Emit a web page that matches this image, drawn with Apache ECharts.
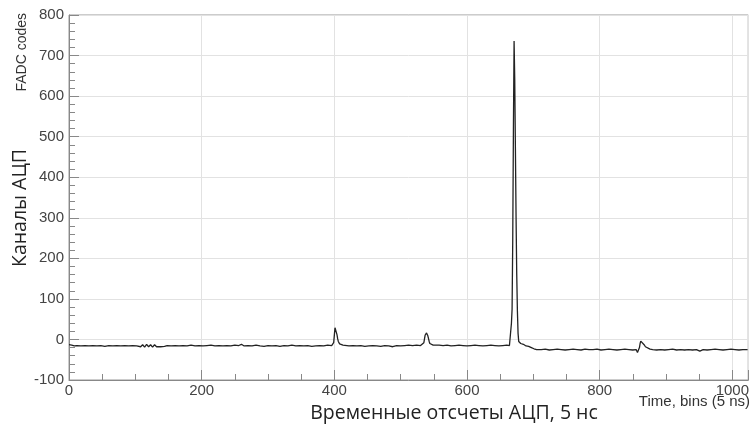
<!DOCTYPE html>
<html>
<head>
<meta charset="utf-8">
<script src="https://cdn.jsdelivr.net/npm/echarts@6/dist/echarts.min.js"></script>
<style>
  html, body { margin: 0; padding: 0; background: #fff; }
  #chart { width: 752px; height: 430px; }
</style>
</head>
<body>
<div id="chart"></div>
<script>
// FADC waveform: [time bin, FADC code] pairs, split by region of the record
const baselineStart = [
  [0,-13],[4,-14],[8,-16],[12,-15],[18,-16],[24,-15],[30,-16],[36,-15],[42,-16],[48,-15],
  [54,-17],[60,-15],[66,-16],[72,-15],[78,-16],[84,-15],[90,-16],[96,-15],[102,-16],[105,-12],
  [108,-18],[111,-13],[114,-19],[117,-12],[120,-18],[123,-13],[126,-19],[129,-13],[132,-18],[135,-14],
  [138,-18],[141,-14],[144,-17],[148,-15],[154,-16],[160,-15],[166,-16],[172,-15],[178,-16],[184,-14],
  [190,-16],[196,-15],[202,-16],[208,-15],[214,-14],[220,-16],[226,-15],[232,-16],[238,-15],[244,-16],
  [250,-14],[256,-15],[260,-12],[264,-16],[270,-15],[276,-16],[282,-14],[288,-16],[294,-17],[300,-15],
  [306,-16],[312,-15],[318,-17],[324,-15],[330,-16],[336,-14],[342,-16],[348,-15],[354,-16],[360,-15],
  [366,-17],[372,-16],[378,-15],[384,-16],[390,-14],[396,-15]
];
const pulseA = [
  [398,-15],[399,-8],[400,10],[401,29],[402,33],[403,26],[404,12],[405,2],[406,-5],[407,-9],
  [408,-11],[410,-13],[413,-14],[416,-15]
];
const baselineMid = [
  [422,-16],[428,-15],[434,-16],[440,-15],[446,-17],[452,-16],[458,-15],[464,-16],[470,-17],[476,-15],
  [482,-16],[488,-18],[494,-15],[500,-16],[506,-15],[512,-14],[518,-15],[524,-14],[530,-15]
];
const pulseB = [
  [533,-14],[535,-8],[536,2],[537,11],[538,15],[539,16],[540,14],[541,9],[542,2],[543,-5],
  [544,-10],[546,-13],[549,-14],[552,-15]
];
const baselinePre = [
  [558,-14],[564,-15],[570,-14],[576,-16],[582,-15],[588,-14],[594,-15],[600,-16],[606,-15],[612,-14],
  [618,-15],[624,-16],[630,-15],[636,-14],[642,-15],[648,-16],[654,-15],[660,-14],[664,-15]
];
const mainPulse = [
  [666,-14],[667,40],[668,75],[669,250],[670,520],[671,736],[672,640],[673,470],[674,300],[675,160],
  [676,70],[677,15],[678,-5],[679,-8],[681,-10],[683,-9],[685,-12],[687,-14],[689,-16],[691,-18],
  [693,-17],[695,-21],[697,-20],[699,-24],[701,-23],[703,-27],[705,-25],[708,-24]
];
const baselinePost = [
  [712,-25],[718,-24],[724,-26],[730,-25],[736,-24],[742,-25],[748,-26],[754,-25],[760,-24],[766,-25],
  [772,-26],[778,-24],[784,-25],[790,-25],[796,-24],[802,-26],[808,-25],[814,-24],[820,-25],[826,-26],
  [832,-25],[838,-24],[844,-25],[850,-26],[855,-25]
];
const pulseC = [
  [856,-27],[857,-32],[858,-34],[859,-30],[860,-20],[861,-10],[862,-4],[863,-2],[864,-4],[865,-8],
  [867,-13],[869,-18],[872,-22],[876,-24],[880,-25]
];
const baselineEnd = [
  [886,-26],[892,-25],[898,-26],[904,-25],[910,-24],[916,-26],[922,-25],[928,-26],[934,-25],[940,-26],
  [946,-25],[951,-29],[956,-25],[962,-26],[968,-25],[974,-24],[980,-25],[986,-26],[992,-25],[998,-24],
  [1004,-25],[1010,-26],[1016,-25],[1023,-25]
];

const waveform = [].concat(baselineStart, pulseA, baselineMid, pulseB, baselinePre,
                           mainPulse, baselinePost, pulseC, baselineEnd);

const xRange = [0, 1024];
const yRange = [-100, 800];
const xStep = 200;
const yStep = 100;

const axisFont = 'Liberation Sans, Arial, sans-serif';
const labelFont = 'Open Sans, Noto Sans, sans-serif';

const chart = echarts.init(document.getElementById('chart'), null, { renderer: 'canvas' });

chart.setOption({
  animation: false,
  backgroundColor: '#ffffff',
  grid: {
    left: 69, right: 3, top: 15, bottom: 50,
    show: true, borderColor: '#999', borderWidth: 1, containLabel: false
  },
  xAxis: {
    type: 'value',
    min: xRange[0], max: xRange[1], interval: xStep,
    axisLine: { show: true, onZero: false, lineStyle: { color: '#888', width: 1 } },
    axisTick: { show: true, inside: true, length: 10, lineStyle: { color: '#888' } },
    minorTick: { show: true, splitNumber: 4, length: 6, lineStyle: { color: '#888' } },
    splitLine: { show: true, lineStyle: { color: '#e2e2e2', width: 1 } },
    axisLabel: {
      showMaxLabel: false, color: '#444', fontFamily: axisFont, fontSize: 15, margin: 3,
      formatter: function (v) { return String(v); }
    }
  },
  yAxis: {
    type: 'value',
    min: yRange[0], max: yRange[1], interval: yStep,
    axisLine: { show: true, onZero: false, lineStyle: { color: '#888', width: 1 } },
    axisTick: { show: true, inside: true, length: 10, lineStyle: { color: '#888' } },
    minorTick: { show: true, splitNumber: 5, length: 6, lineStyle: { color: '#888' } },
    splitLine: { show: true, lineStyle: { color: '#e2e2e2', width: 1 } },
    axisLabel: {
      color: '#444', fontFamily: axisFont, fontSize: 15, margin: 5,
      formatter: function (v) { return String(v); }
    }
  },
  series: [{
    type: 'line',
    data: waveform,
    showSymbol: false,
    symbol: 'none',
    lineStyle: { color: '#222', width: 1.3 },
    z: 5
  }],
  graphic: [
    {
      type: 'text', x: 22, y: 13, rotation: Math.PI / 2,
      style: {
        text: 'FADC codes', fill: '#333', font: '14px ' + axisFont,
        align: 'right', verticalAlign: 'middle'
      }
    },
    {
      type: 'text', x: 20, y: 208, rotation: Math.PI / 2,
      style: {
        text: 'Каналы АЦП', fill: '#222', font: '19.5px ' + labelFont,
        align: 'center', verticalAlign: 'middle'
      }
    },
    {
      type: 'text', x: 750, y: 402,
      style: {
        text: 'Time, bins (5 ns)', fill: '#333', font: '15px ' + axisFont,
        align: 'right', verticalAlign: 'middle'
      }
    },
    {
      type: 'text', x: 454, y: 413,
      style: {
        text: 'Временные отсчеты АЦП, 5 нс', fill: '#222', font: '19.5px ' + labelFont,
        align: 'center', verticalAlign: 'middle'
      }
    }
  ]
});
</script>
</body>
</html>
